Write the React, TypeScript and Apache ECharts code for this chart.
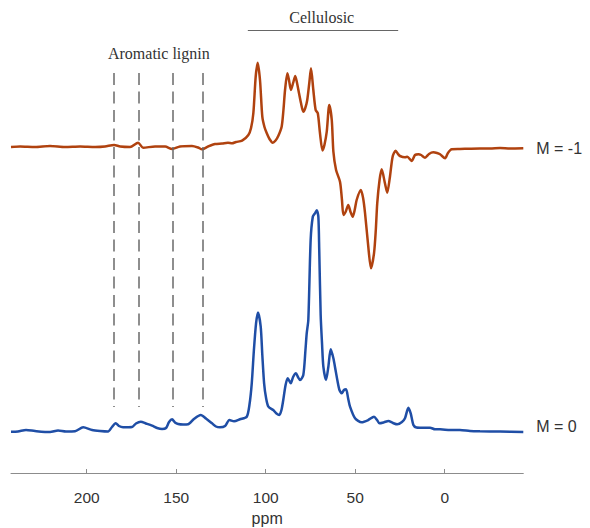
import React, { useEffect, useRef } from "react";
import * as echarts from "echarts";

// Chemical shift (ppm) and intensity relative to baseline (a.u.) for M = -1
const ppmM1 = [
  242.3, 237.2, 228.9, 220.5, 212.1, 203.7, 195.3, 189.8, 184.7, 181.3, 175.8, 171.3, 168.5, 161.8, 156.2,
  152.3, 147.9, 141.2, 137.8, 135.6, 132.2, 128.3, 124.4, 121.1, 118.8, 116.6, 113.2, 109.7, 108.2, 106.9,
  105.6, 104.5, 103.2, 101.9, 100.7, 99.4, 97.9, 96.1, 94.5, 93.0, 91.1, 90.1, 89.2, 87.9, 87.0, 85.9, 84.7,
  83.5, 82.5, 81.4, 80.3, 79.0, 77.9, 76.8, 75.6, 74.7, 73.4, 72.1, 70.9, 69.7, 68.3, 67.2, 65.9, 64.5, 63.1,
  62.2, 60.7, 58.5, 57.4, 56.6, 55.4, 53.9, 52.6, 51.4, 50.3, 49.2, 46.9, 45.6, 44.5, 42.7, 41.2, 39.5, 38.5,
  37.7, 36.4, 35.2, 33.4, 32.1, 30.6, 29.1, 27.4, 26.1, 25.0, 22.2, 20.9, 18.5, 16.6, 14.7, 13.2, 11.0, 8.8,
  6.4, 4.3, 2.6, -0.2, -1.8, -3.9, -8.5, -14.1, -19.7, -25.3, -30.9, -36.5, -43.9,
];
const intM1 = [
  1, 1.5, 1, 2, 1, 1.5, 1, 1.5, 3, 1.5, 1, 5.3, 0.3, 1.5, 1.5,
  -1, 1.5, 2, 0.5, -1.3, 1.5, 4, 4.5, 5.3, 4.7, 6, 7.3, 13, 20, 35,
  71.3, 85.3, 68, 31.3, 21, 14.7, 9, 5.3, 7.5, 12, 21.3, 38, 58, 74.7, 68, 58, 65,
  72, 65, 54.7, 45, 36.3, 40, 48, 66, 79.7, 58, 38, 34.7, 15, -2.5, 3, 16.3, 43, 28,
  -3.7, -22, -33.7, -52, -67, -64, -57, -64, -68.7, -62, -52, -42, -50, -65.3, -98.7, -120.3, -105.3, -82,
  -55.3, -32, -21.3, -35.3, -44.7, -28.7, -8.7, -2.7, -6, -8, -9.3, -8.7, -13, -7, -6.3, -7, -9.7, -6,
  -4.3, -5, -6.3, -10.3, -5, -1.3, -1, -0.7, -0.5, -0.5, 0, -0.5, -0.3,
];

// Chemical shift (ppm) and intensity relative to baseline (a.u.) for M = 0
const ppmM0 = [
  242.3, 238.4, 233.9, 228.9, 220.5, 216.0, 211.6, 206.5, 202.0, 197.0, 192.6, 188.1, 185.9, 183.8, 182.0,
  179.7, 174.7, 172.5, 169.8, 166.9, 163.5, 160.7, 157.9, 155.7, 154.0, 152.3, 150.7, 148.9, 146.2, 143.4,
  140.1, 136.3, 133.4, 130.0, 127.8, 125.6, 122.7, 120.3, 117.7, 114.4, 110.6, 109.1, 107.8, 106.6, 105.4,
  104.3, 102.8, 101.9, 100.9, 99.8, 98.5, 95.8, 94.0, 92.4, 91.2, 90.2, 88.9, 87.7, 86.0, 84.7, 83.1, 82.0,
  80.8, 79.0, 77.8, 77.1, 76.2, 74.9, 73.7, 72.5, 71.5, 70.6, 70.1, 69.3, 68.5, 67.8, 66.3, 65.0, 63.7, 62.2,
  61.0, 60.0, 58.8, 57.5, 56.3, 55.1, 54.0, 52.9, 50.1, 46.4, 42.7, 39.5, 37.8, 36.5, 33.9, 31.5, 28.9, 26.5,
  23.9, 22.2, 20.3, 19.0, 17.5, 15.8, 13.8, 8.2, 5.4, 2.6, -3.0, -8.5, -14.1, -19.7, -30.9, -43.9,
];
const intM0 = [
  0.3, 0.5, 2, 1, 0, 1.5, 0.5, 0.7, 4.7, 2, 1, 0.5, 5, 8.7, 6,
  4.7, 5, 8.5, 10.3, 8.5, 6.3, 4, 3, 4, 10, 12.7, 9.5, 8, 7.5, 7.7,
  13, 17, 13.5, 8.7, 5.5, 4.7, 6, 12, 10.7, 12.7, 15.3, 27, 48.7, 82, 108.7,
  119.5, 105.3, 77, 48.7, 34, 25.3, 22, 18.5, 17, 22, 32, 47, 53.7, 48.7, 55, 58.7, 55,
  52, 57, 82, 98.7, 112, 192, 215.3, 218.7, 221.7, 215.3, 182, 117, 87, 65.3, 52, 65.3, 82.7, 73.7,
  62, 52, 42, 38.7, 42, 42.7, 34, 25.3, 13.7, 9.7, 12, 15.3, 12, 8.7, 9.7, 11, 9, 7.7,
  10, 13.7, 24.3, 18.7, 7, 4.5, 4.3, 4.3, 2.7, 2.7, 2, 2, 1, 0.7, 0.5, 0,
];

// Vertical offsets of the stacked spectra
const offsetM0 = 41;
const offsetM1 = 325;

// Axis ticks
const xTicks = [200, 150, 100, 50, 0];

// Aromatic lignin marker positions (ppm)
const ligninLines = [185, 171, 152, 135];
// Cellulosic range (ppm)
const cellulosicRange = [110, 26];

export default function App() {
  const ref = useRef<HTMLDivElement>(null);

  useEffect(() => {
    if (!ref.current) return;
    const chart = echarts.init(ref.current, null, { renderer: "svg" });

    const m1Data = ppmM1.map((p, i) => [p, intM1[i] + offsetM1]);
    const m0Data = ppmM0.map((p, i) => [p, intM0[i] + offsetM0]);

    const serif = "'Liberation Serif', 'DejaVu Serif', serif";
    const sans = "'Liberation Sans', Arial, sans-serif";

    const endMark = (x: number, y: number, text: string, dy: number) => ({
      silent: true,
      symbol: "circle",
      symbolSize: 0,
      data: [
        {
          coord: [x, y],
          label: {
            show: true,
            position: "right",
            distance: 13,
            offset: [0, dy],
            formatter: text,
            color: "#333",
            fontSize: 16,
            fontFamily: sans,
          },
        },
      ],
    });

    chart.setOption({
      animation: false,
      backgroundColor: "#ffffff",
      grid: { left: 11, right: 66.7, top: 0, bottom: 55, outerBoundsMode: "none", containLabel: false },
      xAxis: {
        type: "value",
        inverse: true,
        min: -43.9,
        max: 242.3,
        name: "ppm",
        nameLocation: "middle",
        nameGap: 37,
        nameTextStyle: { color: "#333", fontSize: 16, fontFamily: sans },
        axisLine: { show: true, lineStyle: { color: "#8c8c8c", width: 1 } },
        axisTick: { show: true, inside: true, length: 4, customValues: xTicks, lineStyle: { color: "#8c8c8c" } },
        axisLabel: {
          show: true,
          customValues: xTicks,
          color: "#333",
          fontSize: 15.5,
          fontFamily: sans,
          margin: 16,
        },
        splitLine: { show: false },
      },
      yAxis: {
        type: "value",
        min: 0,
        max: 473,
        show: false,
        splitLine: { show: false },
      },
      series: [
        {
          name: "M = 0",
          type: "line",
          data: m0Data,
          showSymbol: false,
          smooth: 0.25,
          z: 3,
          lineStyle: { color: "#1f4ea6", width: 2.5 },
          markLine: {
            silent: true,
            symbol: ["none", "none"],
            label: { show: false },
            lineStyle: { color: "#6a6a6a", width: 1.5, type: [12, 6.5] },
            data: ligninLines.map((p) => [
              { coord: [p, 400] },
              { coord: [p, 66] },
            ]).concat([
              [
                { coord: [cellulosicRange[0], 443], lineStyle: { color: "#666", width: 1, type: "solid" } },
                { coord: [cellulosicRange[1], 443] },
              ],
            ] as any),
          },
          markPoint: {
            silent: true,
            symbol: "circle",
            symbolSize: 0,
            data: [
              {
                coord: [159.7, 420],
                label: {
                  show: true,
                  position: "inside",
                  formatter: "Aromatic lignin",
                  color: "#333",
                  fontSize: 16,
                  fontFamily: serif,
                },
              },
              {
                coord: [68.7, 456],
                label: {
                  show: true,
                  position: "inside",
                  formatter: "Cellulosic",
                  color: "#333",
                  fontSize: 16,
                  fontFamily: serif,
                },
              },
              {
                coord: [ppmM0[ppmM0.length - 1], offsetM0],
                label: {
                  show: true,
                  position: "right",
                  distance: 13,
                  offset: [0, -6],
                  formatter: "M = 0",
                  color: "#333",
                  fontSize: 16,
                  fontFamily: sans,
                },
              },
            ],
          },
        },
        {
          name: "M = -1",
          type: "line",
          data: m1Data,
          showSymbol: false,
          smooth: 0.25,
          z: 4,
          lineStyle: { color: "#b0420f", width: 2.5 },
          markPoint: endMark(ppmM1[ppmM1.length - 1], offsetM1, "M = -1", 0),
        },
      ],
    });

    return () => chart.dispose();
  }, []);

  return (
    <div
      ref={ref}
      style={{ position: "fixed", left: 0, top: 0, width: 590, height: 528, background: "#fff" }}
    />
  );
}
